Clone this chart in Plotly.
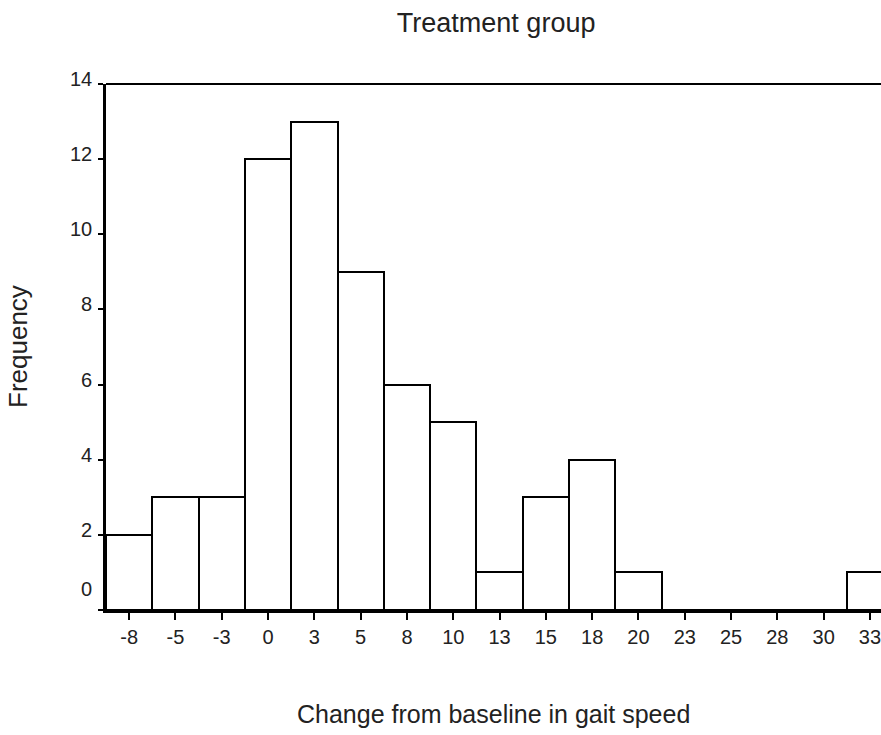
import plotly.graph_objects as go

# Data
bin_labels = ["-8", "-5", "-3", "0", "3", "5", "8", "10", "13", "15",
              "18", "20", "23", "25", "28", "30", "33"]
frequencies = [2, 3, 3, 12, 13, 9, 6, 5, 1, 3, 4, 1, 0, 0, 0, 0, 1]
y_tick_values = [0, 2, 4, 6, 8, 10, 12, 14]

title_text = "Treatment group"
x_title = "Change from baseline in gait speed"
y_title = "Frequency"

FONT = "Liberation Sans, Arial, sans-serif"
W, H = 881, 735
ML, MR, MT, MB = 106, 0, 84, 125
plot_h = H - MT - MB

fig = go.Figure()
fig.add_trace(go.Bar(
    x=bin_labels,
    y=frequencies,
    marker=dict(color="white", line=dict(color="black", width=2)),
    showlegend=False,
    hoverinfo="x+y",
))

# Y tick labels as annotations (labels sit slightly above their ticks)
for v in y_tick_values:
    fig.add_annotation(
        x=0, xref="paper", xanchor="right", xshift=-12,
        y=v, yref="y", yanchor="middle", yshift=21 if v == 0 else 5,
        text=str(v), showarrow=False,
        font=dict(family=FONT, size=20, color="#222"),
    )

# Axis titles
fig.add_annotation(
    x=0.5, xref="paper", y=-(714 - (MT + plot_h)) / plot_h, yref="paper",
    text=x_title, showarrow=False, xanchor="center", yanchor="middle",
    font=dict(family=FONT, size=25, color="#222"),
)
fig.add_annotation(
    x=-(106 - 18) / (W - ML - MR), xref="paper", y=0.5, yref="paper",
    text=y_title, showarrow=False, textangle=-90, xanchor="center", yanchor="middle",
    font=dict(family=FONT, size=26, color="#222"),
)

# Top frame line
fig.add_shape(type="line", xref="paper", yref="paper", x0=0, x1=1, y0=1, y1=1,
              line=dict(color="black", width=2))

fig.update_layout(
    width=W, height=H,
    margin=dict(l=ML, r=MR, t=MT, b=MB, pad=0),
    paper_bgcolor="white", plot_bgcolor="white",
    bargap=0,
    title=dict(text=title_text, x=(ML + (W - MR)) / 2 / W + 0.003, xref="container",
               xanchor="center", y=1 - 23 / H, yref="container", yanchor="middle",
               font=dict(family=FONT, size=27, color="#222")),
    font=dict(family=FONT, size=20, color="#222"),
)
fig.update_xaxes(
    type="category", range=[-0.5, -0.5 + (W - ML - MR) / 46.3],
    showline=True, linecolor="black", linewidth=3,
    ticks="outside", ticklen=7, tickwidth=2, tickcolor="black",
    tickfont=dict(family=FONT, size=20, color="#222"),
    showgrid=False, zeroline=False, fixedrange=True,
)
fig.update_yaxes(
    range=[0, 14], tickvals=y_tick_values, showticklabels=False,
    showline=True, linecolor="black", linewidth=3,
    ticks="outside", ticklen=5, tickwidth=2, tickcolor="black",
    showgrid=False, zeroline=False, fixedrange=True,
)

fig.write_html(
    "out.html",
    config={"displayModeBar": False},
    post_script="document.body.style.margin='0';document.body.style.overflow='hidden';",
)
